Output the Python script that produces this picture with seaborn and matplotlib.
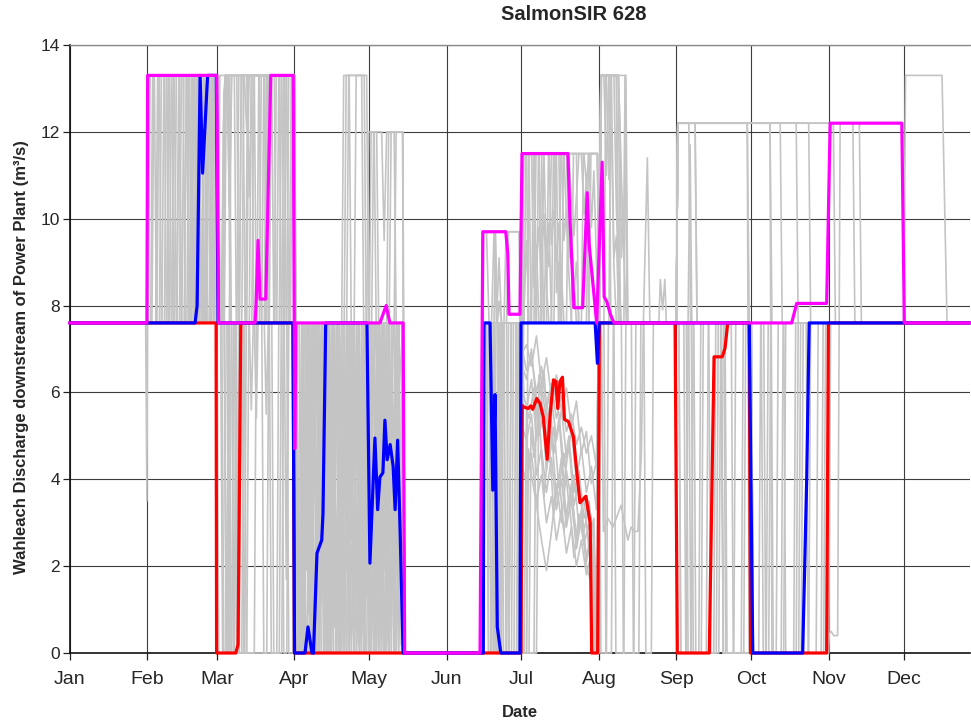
import matplotlib
matplotlib.use("Agg")
import matplotlib.pyplot as plt
import seaborn as sns
import pandas as pd

# ---- axis definitions -------------------------------------------------------
MONTH_STARTS = [0, 31, 59, 90, 120, 151, 181, 212, 243, 273, 304, 334]
MONTH_LABELS = ["Jan", "Feb", "Mar", "Apr", "May", "Jun",
                "Jul", "Aug", "Sep", "Oct", "Nov", "Dec"]
FLOW_TICKS = [0, 2, 4, 6, 8, 10, 12, 14]

# ---- highlighted runs (day of year, discharge m3/s) -------------------------
red_day = [0, 58.7, 58.9, 66.6, 67.5, 68.6, 89.5, 90.1, 180.8, 181.3, 182.0,
           183.7, 184.7, 185.5, 187.1, 188.4, 189.7, 191.3, 192.4, 193.8, 194.8,
           195.5, 196.4, 197.4, 198.2, 199.8, 201.8, 202.8, 204.4, 206.8, 208.5,
           209.1, 211.5, 212.2, 242.5, 243.4, 256.2, 258.1, 261.4, 262.5, 263.6,
           272.2, 272.7, 303.2, 303.9, 360.5]
red_q = [7.6, 7.6, 0, 0, 0.2, 7.6, 7.6, 0, 0, 5.7, 5.66,
         5.63, 5.69, 5.61, 5.86, 5.75, 5.44, 4.46, 5.44, 6.29, 6.25,
         5.63, 6.25, 6.35, 5.38, 5.33, 4.98, 4.37, 3.46, 3.61, 2.99,
         0, 0, 7.6, 7.6, 0, 0, 6.82, 6.82, 7.02, 7.6,
         7.6, 0, 0, 7.6, 7.6]

blue_day = [0, 50.3, 51.1, 52.3, 53.3, 55.3, 58.8, 59.5, 89.5, 90.1, 94.3,
            95.5, 97.1, 97.7, 99.1, 101.0, 101.5, 102.6, 119.1, 120.3, 122.3,
            123.4, 124.3, 125.5, 126.3, 127.2, 128.4, 129.6, 130.4, 131.4, 132.4,
            133.6, 165.7, 166.0, 168.4, 169.5, 170.4, 171.3, 172.7, 180.4, 180.8,
            210.5, 211.4, 212.1, 272.2, 273.6, 293.6, 295.2, 296.2, 360.5]
blue_q = [7.6, 7.6, 8.0, 13.3, 11.05, 13.3, 13.3, 7.6, 7.6, 0, 0,
          0.6, 0, 0, 2.3, 2.6, 3.2, 7.6, 7.6, 2.07, 4.95,
          3.3, 4.05, 4.15, 5.36, 4.45, 4.8, 4.3, 3.3, 4.9, 2.8,
          0, 0, 7.6, 7.6, 3.75, 5.95, 0.6, 0, 0, 7.6,
          7.6, 6.67, 7.6, 7.6, 0, 0, 3.98, 7.6, 7.6]

magenta_day = [0, 31.0, 31.3, 58.95, 59.7, 74.3, 74.7, 75.5, 76.3, 78.6, 80.6,
               89.6, 90.2, 90.6, 124.3, 126.8, 128.3, 133.6, 134.2, 164.4, 165.5,
               174.7, 175.5, 176.0, 180.4, 181.2, 199.6, 200.4, 202.0, 205.5, 207.3,
               208.1, 211.1, 213.3, 214.1, 215.1, 216.6, 217.3, 218.1, 289.2, 291.2,
               303.2, 304.6, 333.3, 334.3, 360.5]
magenta_q = [7.6, 7.6, 13.3, 13.3, 7.6, 7.6, 8.0, 9.5, 8.15, 8.15, 13.3,
             13.3, 4.7, 7.6, 7.6, 8.0, 7.6, 7.6, 0, 0, 9.7,
             9.7, 9.2, 7.8, 7.8, 11.5, 11.5, 10.0, 7.95, 7.95, 10.6,
             9.4, 7.6, 11.3, 8.2, 8.1, 7.8, 7.7, 7.6, 7.6, 8.05,
             8.05, 12.2, 12.2, 7.6, 7.6]

# ---- ensemble of simulated years (day of year, discharge m3/s) --------------
run01 = [(0, 7.6), (30.5, 7.6), (31, 3.5), (31.6, 13.3), (44, 13.3), (44.8, 7.6), (50, 7.6), (50.8, 13.3),
         (59.2, 13.3), (60, 7.6), (62, 7.6), (62.8, 0), (64, 0), (64.8, 7.6), (88, 7.6), (88.8, 13.3),
         (89.6, 13.3), (90.4, 0), (93, 0), (93.8, 5.1), (95, 3.2), (96, 7.6), (98, 7.6), (98.8, 0.8),
         (101, 2.6), (102, 7.6), (105, 7.6), (105.8, 1.2), (108, 4.4), (109, 7.6), (113, 7.6), (113.8, 0),
         (116, 3.6), (117, 6.9), (119, 2.4), (121, 7.6), (124, 7.6), (125, 1.5), (127, 5.8), (129, 3.9),
         (131, 7.6), (133.5, 7.6), (134.2, 0), (165, 0), (165.8, 7.6), (170, 7.6), (170.8, 0), (172, 0),
         (172.8, 7.6), (180.4, 7.6), (181.2, 6.9), (183, 7.1), (185, 6.6), (187, 7.3), (189, 6.2), (191, 6.8),
         (193, 5.9), (195, 6.4), (197, 5.6), (199, 6.1), (201, 5.2), (203, 5.8), (205, 4.6), (207, 5.1),
         (209, 3.9), (211, 4.4), (212, 7.6), (221, 7.6), (221.8, 0), (226, 0), (226.8, 7.6), (243, 7.6),
         (243.6, 12.2), (250.5, 12.2), (251.3, 7.6), (261, 7.6), (261.8, 0), (272.5, 0), (280, 0), (280.8, 7.6),
         (286, 7.6), (286.8, 0), (303.5, 0), (304.3, 7.6), (360.5, 7.6)]

run02 = [(0, 7.6), (33, 7.6), (33.8, 13.3), (36, 13.3), (36.8, 7.6), (41, 7.6), (41.8, 13.3), (59, 13.3),
         (59.8, 7.6), (61.5, 7.6), (62.3, 12.9), (63, 13.3), (67, 13.3), (67.8, 7.6), (72, 7.6), (72.8, 13.3),
         (90, 13.3), (90.8, 7.6), (92, 7.6), (92.8, 0), (94, 0), (95, 4.2), (96.5, 2.1), (98, 6.3),
         (99, 7.6), (102, 7.6), (102.8, 0), (104, 0), (105, 5.5), (106, 7.6), (110, 7.6), (110.8, 1.9),
         (112, 3.7), (113, 7.6), (114, 7.6), (114.8, 13.3), (117, 13.3), (117.8, 7.6), (120, 7.6), (120.8, 0.4),
         (123, 3.1), (125, 7.6), (128, 7.6), (128.8, 2.5), (130.5, 4.9), (132, 1.3), (133.5, 6.0), (134.2, 0),
         (165, 0), (165.8, 7.6), (168, 7.6), (168.8, 0), (171, 0), (171.8, 7.6), (180.4, 7.6), (181.2, 11.5),
         (186, 11.5), (186.8, 7.6), (190, 7.6), (190.8, 9.6), (192, 8.9), (193, 11.5), (199, 11.5), (200, 9.3),
         (202, 8.6), (203, 7.6), (212, 7.6), (212.8, 13.3), (216, 13.3), (216.8, 7.6), (243, 7.6), (243.6, 12.2),
         (271.4, 12.2), (272.2, 7.6), (278, 7.6), (278.8, 0), (296, 0), (296.8, 7.6), (360.5, 7.6)]

run03 = [(0, 7.6), (35, 7.6), (35.8, 13.3), (38, 13.3), (38.8, 7.6), (46, 7.6), (46.8, 13.3), (52, 13.3),
         (52.8, 7.6), (55, 7.6), (55.8, 13.3), (58.8, 13.3), (59.6, 7.6), (64, 7.6), (64.8, 13.3), (76, 13.3),
         (76.8, 7.6), (84, 7.6), (84.8, 13.3), (89.8, 13.3), (90.6, 0), (96, 0), (96.8, 7.6), (99, 7.6),
         (99.8, 0), (101, 3.4), (103, 0.9), (104, 7.6), (107, 7.6), (107.8, 0), (110, 0), (111, 6.2),
         (112.5, 7.6), (115, 7.6), (115.8, 2.9), (117, 4.8), (118.5, 0), (120, 0), (121, 5.9), (122.5, 7.6),
         (126, 7.6), (126.8, 0), (129, 2.0), (131, 5.2), (133.6, 7.6), (134.2, 0), (165, 0), (165.8, 9.7),
         (167, 9.7), (168, 7.6), (174, 7.6), (174.8, 9.7), (180.1, 9.7), (180.9, 7.6), (182, 5.9), (184, 5.4),
         (186, 6.1), (188, 5.0), (190, 5.6), (192, 4.4), (194, 5.2), (196, 3.8), (198, 4.6), (200, 3.4),
         (202, 4.1), (204, 2.9), (206, 3.6), (208, 2.4), (210, 3.1), (211.2, 0), (212, 7.6), (212.8, 13.3),
         (219.8, 13.3), (221, 11.0), (222, 9.1), (223, 7.6), (243, 7.6), (243.6, 12.2), (280.5, 12.2), (281.3, 0),
         (292, 0), (292.8, 7.6), (360.5, 7.6)]

run04 = [(0, 7.6), (37, 7.6), (37.8, 13.3), (59, 13.3), (59.8, 7.6), (62, 7.6), (62.8, 0), (66, 0),
         (66.8, 7.6), (69, 7.6), (69.8, 13.3), (71, 13.3), (72, 10.5), (73, 13.3), (90.2, 13.3), (91, 0),
         (97, 0), (97.8, 7.6), (100, 7.6), (100.8, 1.1), (102, 3.0), (103.5, 0), (105, 0), (106, 7.6),
         (108, 7.6), (108.8, 0), (111, 0), (112, 4.7), (113, 2.6), (114, 7.6), (116, 7.6), (116.8, 0.3),
         (118, 2.2), (119, 7.6), (121, 7.6), (121.8, 12.0), (125, 12.0), (126, 9.5), (127, 12.0), (133.4, 12.0),
         (134.2, 0), (165, 0), (165.8, 7.6), (170, 7.6), (170.6, 9.7), (171.4, 7.6), (172, 8.1), (173, 7.6),
         (180.4, 7.6), (181.2, 0), (186, 0), (186.8, 6.0), (188, 5.2), (190, 6.5), (192, 4.8), (194, 6.1),
         (196, 5.5), (198, 4.3), (200, 5.0), (202, 3.7), (204, 4.2), (206, 3.1), (208, 3.5), (210, 2.6),
         (211.3, 0), (212, 7.6), (213, 7.6), (213.8, 2.8), (215.6, 3.1), (217.6, 2.9), (220.9, 3.4), (223.6, 2.6),
         (224.9, 2.9), (226.3, 2.8), (227.6, 2.8), (229, 4.6), (229.8, 7.6), (231.4, 11.4), (232.4, 7.6), (243, 7.6),
         (244, 7.6), (244.8, 0), (247, 0), (247.7, 7.6), (248.5, 11.7), (249.2, 7.6), (273, 7.6), (273.8, 0),
         (303.6, 0), (304.3, 0.45), (305, 0.5), (306, 0.4), (307.6, 0.4), (308.6, 12.2), (313.7, 12.2), (314.5, 7.6),
         (360.5, 7.6)]

run05 = [(0, 7.6), (39, 7.6), (39.8, 13.3), (48, 13.3), (48.8, 7.6), (57, 7.6), (57.8, 13.3), (59.3, 13.3),
         (60, 7.6), (66, 7.6), (67, 0.2), (67.6, 0), (83, 0), (83.8, 7.6), (86, 7.6), (86.8, 13.3),
         (89.8, 13.3), (90.6, 7.6), (91, 7.6), (91.8, 0), (95, 0), (96, 2.8), (97, 1.6), (98.5, 7.6),
         (101, 7.6), (101.8, 0), (103, 4.8), (104, 3.5), (105, 7.6), (109, 7.6), (109.8, 13.3), (118, 13.3),
         (118.8, 7.6), (119.5, 7.6), (120.3, 0), (122, 2.7), (123, 1.4), (124, 4.5), (125, 7.6), (128, 7.6),
         (128.8, 12.0), (133.5, 12.0), (134.3, 0), (165, 0), (166, 7.6), (169, 7.6), (169.8, 0), (172.7, 0),
         (173.5, 7.6), (179, 7.6), (179.8, 0), (181, 0), (181.8, 7.6), (183, 9.5), (184, 7.6), (187, 7.6),
         (187.8, 11.5), (198, 11.5), (199, 10.0), (200, 9.1), (201, 9.7), (202, 8.3), (203, 9.0), (204, 7.6),
         (208, 7.6), (208.8, 11.5), (211.4, 11.5), (212.2, 7.6), (213, 13.3), (218, 13.3), (219, 10.2), (220, 8.7),
         (221, 7.6), (236, 7.6), (236.6, 8.6), (237.5, 7.9), (238.4, 8.6), (239, 7.6), (243, 7.6), (243.6, 12.2),
         (284.6, 12.2), (285.4, 7.6), (360.5, 7.6)]

run06 = [(0, 7.6), (31.5, 7.6), (32.3, 13.3), (34, 13.3), (34.8, 7.6), (43, 7.6), (43.8, 13.3), (54, 13.3),
         (54.8, 7.6), (56, 7.6), (56.8, 13.3), (59, 13.3), (59.8, 7.6), (60.5, 7.6), (61.3, 0), (63, 0),
         (63.8, 7.6), (75, 7.6), (75.8, 13.3), (90, 13.3), (90.8, 0), (94, 0), (95, 6.8), (96, 3.3),
         (97, 7.6), (100, 7.6), (100.8, 0), (103, 0), (103.8, 6.0), (105, 4.2), (106, 7.6), (111, 7.6),
         (111.8, 0.6), (113, 2.5), (114, 0), (116, 0), (117, 5.3), (118, 7.6), (120, 7.6), (120.8, 3.0),
         (122, 1.0), (123, 7.6), (127, 7.6), (127.8, 0), (130, 0), (131, 5.7), (132, 2.3), (133.5, 7.6),
         (134.3, 0), (165, 0), (165.8, 7.6), (180.5, 7.6), (181.3, 0), (183, 0), (183.8, 11.5), (186, 11.5),
         (186.8, 8.9), (188, 9.8), (189, 8.6), (190, 11.5), (195, 11.5), (195.8, 7.6), (212, 7.6), (212.8, 0),
         (215, 0), (215.8, 7.6), (222, 7.6), (222.8, 13.3), (223.6, 7.6), (248, 7.6), (248.8, 0), (252, 0),
         (252.8, 7.6), (273, 7.6), (273.8, 0), (286, 0), (286.8, 7.6), (360.5, 7.6)]

run07 = [(0, 7.6), (40, 7.6), (40.8, 13.3), (42, 13.3), (42.8, 7.6), (49, 7.6), (49.8, 13.3), (56, 13.3),
         (56.8, 7.6), (61, 7.6), (61.8, 12.9), (62.5, 13.3), (70, 13.3), (71, 12.0), (72, 13.3), (79, 13.3),
         (79.8, 7.6), (81, 7.6), (81.8, 0), (85, 0), (85.8, 7.6), (89.5, 7.6), (90.3, 0), (92, 0),
         (93, 7.6), (95, 7.6), (95.8, 0.9), (97, 2.4), (98, 0), (100, 0), (101, 7.6), (103, 7.6),
         (103.8, 1.7), (105, 0.5), (106, 4.0), (107, 7.6), (110, 7.6), (110.8, 13.3), (112, 13.3), (112.8, 7.6),
         (114, 7.6), (114.8, 1.4), (116, 3.3), (117, 0), (119, 0), (120, 6.1), (121, 3.6), (122, 7.6),
         (124, 7.6), (125, 2.8), (126, 4.6), (127, 7.6), (129, 7.6), (129.8, 0.6), (131, 3.0), (132, 7.6),
         (133.5, 7.6), (134.3, 0), (165, 0), (166, 7.6), (167, 7.6), (167.8, 0), (176, 0), (177, 7.6),
         (180.5, 7.6), (181.3, 4.3), (183, 3.9), (185, 4.6), (187, 3.5), (189, 4.1), (191, 3.0), (193, 3.6),
         (195, 2.6), (197, 3.3), (199, 2.3), (201, 2.9), (203, 2.0), (205, 2.6), (207, 1.8), (209, 2.3),
         (210.5, 0), (212, 0), (212.8, 7.6), (243, 7.6), (243.6, 12.2), (291, 12.2), (291.8, 7.6), (334, 7.6),
         (334.8, 13.3), (349.4, 13.3), (351.4, 7.6), (360.5, 7.6)]

run08 = [(0, 7.6), (44, 7.6), (44.8, 13.3), (47, 13.3), (47.8, 7.6), (51, 7.6), (51.8, 13.3), (59.5, 13.3),
         (60.3, 7.6), (62, 7.6), (62.8, 0), (65, 0), (65.8, 7.6), (72, 7.6), (72.8, 5.6), (73.6, 7.6),
         (77, 7.6), (77.8, 13.3), (86, 13.3), (86.8, 7.6), (90, 7.6), (90.8, 0), (93, 0), (94, 3.6),
         (95, 1.9), (96, 7.6), (98, 7.6), (98.8, 2.3), (100, 5.5), (101, 7.6), (104, 7.6), (104.8, 0),
         (107, 0), (108, 4.9), (109, 2.7), (110, 7.6), (112, 7.6), (112.8, 0.3), (115, 2.1), (116, 7.6),
         (118, 7.6), (118.8, 1.3), (120, 3.9), (121, 0), (123, 0), (124, 7.6), (126, 7.6), (126.8, 0.6),
         (128, 3.4), (129, 5.0), (130, 2.2), (132, 7.6), (133.5, 7.6), (134.3, 0), (165, 0), (166, 7.6),
         (173, 7.6), (173.8, 0), (177, 0), (177.8, 7.6), (180.5, 7.6), (181.3, 6.6), (183, 6.3), (185, 7.0),
         (187, 5.7), (189, 6.2), (191, 5.3), (193, 5.9), (195, 4.9), (197, 5.6), (199, 4.5), (201, 5.1),
         (203, 4.0), (205, 4.7), (207, 3.7), (209, 4.3), (211, 3.3), (212, 7.6), (214, 7.6), (214.8, 0),
         (217, 0), (217.8, 7.6), (247, 7.6), (247.7, 0), (258, 0), (258.8, 7.6), (261, 7.6), (261.8, 0),
         (270, 0), (270.8, 7.6), (273, 7.6), (273.8, 0), (299, 0), (299.8, 7.6), (360.5, 7.6)]

run09 = [(0, 7.6), (46, 7.6), (46.8, 13.3), (50, 13.3), (50.8, 7.6), (53, 7.6), (53.8, 13.3), (59, 13.3),
         (59.8, 7.6), (63.5, 7.6), (64.3, 0), (66, 0), (66.8, 7.6), (74, 7.6), (74.8, 5.4), (75.5, 7.6),
         (80, 7.6), (80.8, 13.3), (89.6, 13.3), (90.4, 7.6), (93, 7.6), (93.8, 0), (96, 0), (97, 4.9),
         (98, 7.6), (103, 7.6), (103.8, 0), (105, 2.9), (106, 1.1), (107, 7.6), (109, 7.6), (109.8, 0),
         (112, 0), (113, 6.5), (114, 3.9), (115, 7.6), (117, 7.6), (117.8, 0), (119, 2.2), (120.5, 7.6),
         (123, 7.6), (123.8, 0.9), (125, 4.1), (126, 7.6), (129, 7.6), (129.8, 0), (131.5, 3.7), (133, 1.5),
         (134.2, 0), (165, 0), (166, 7.6), (171.5, 7.6), (172.3, 0), (179, 0), (179.8, 7.6), (181, 7.6),
         (181.8, 11.5), (184, 11.5), (184.8, 7.6), (189, 7.6), (189.8, 11.5), (192, 11.5), (193, 9.4), (194, 10.2),
         (195, 9.0), (196, 9.9), (197, 8.7), (198, 7.6), (205, 7.6), (205.8, 11.5), (211.4, 11.5), (212.2, 7.6),
         (212.8, 13.3), (219, 13.3), (219.8, 7.6), (243, 7.6), (243.6, 12.2), (305.9, 12.2), (306.7, 7.6), (360.5, 7.6)]

run10 = [(0, 7.6), (48, 7.6), (48.8, 13.3), (52, 13.3), (52.8, 7.6), (55, 7.6), (55.8, 13.3), (58, 13.3),
         (58.8, 7.6), (59.5, 7.6), (60.2, 13.3), (63, 13.3), (64, 10.3), (65, 13.3), (74, 13.3), (74.8, 7.6),
         (78.5, 7.6), (79.3, 13.3), (89.8, 13.3), (90.6, 0), (92, 0), (93, 5.8), (94, 2.5), (95, 7.6),
         (97, 7.6), (97.8, 0), (100, 0), (101, 3.9), (102, 1.4), (103, 7.6), (106, 7.6), (106.8, 0),
         (108, 0), (109, 5.2), (110, 7.6), (114, 7.6), (114.8, 0), (116, 1.8), (117, 0.4), (118, 7.6),
         (119, 7.6), (119.8, 12.0), (123, 12.0), (123.8, 7.6), (125, 7.6), (125.8, 1.9), (127, 3.6), (128, 0),
         (130, 0), (131, 7.6), (133.5, 7.6), (134.3, 0), (165, 0), (166, 7.6), (174, 7.6), (174.8, 0),
         (176, 0), (176.8, 7.6), (180.5, 7.6), (181.3, 7.0), (183, 6.5), (185, 6.8), (187, 6.0), (189, 6.6),
         (191, 5.6), (193, 6.2), (195, 5.4), (197, 5.9), (199, 5.1), (201, 5.5), (203, 4.8), (205, 5.2),
         (207, 4.6), (209, 5.0), (211, 4.3), (212, 7.6), (218, 7.6), (218.8, 0), (222, 0), (222.8, 7.6),
         (246, 7.6), (246.8, 0), (249, 0), (249.8, 7.6), (262, 7.6), (262.8, 0), (276, 0), (276.8, 7.6),
         (281, 7.6), (281.8, 0), (302, 0), (302.8, 7.6), (360.5, 7.6)]

run11 = [(0, 7.6), (50.5, 7.6), (51.3, 13.3), (59.4, 13.3), (60.2, 7.6), (68, 7.6), (68.8, 13.3), (84, 13.3),
         (84.8, 7.6), (87, 7.6), (87.8, 0), (89.5, 0), (90.3, 7.6), (91, 7.6), (91.8, 0), (93, 2.6),
         (94, 0.7), (95, 7.6), (97, 7.6), (97.8, 0), (99, 4.6), (100.5, 2.9), (102, 7.6), (106, 7.6),
         (106.8, 0.2), (108, 2.7), (109, 7.6), (111, 7.6), (111.8, 0), (114, 0), (115, 5.8), (116, 7.6),
         (120, 7.6), (120.8, 0), (122, 0), (123, 5.0), (124, 2.1), (125.5, 7.6), (127, 7.6), (127.8, 12.0),
         (130, 12.0), (130.8, 7.6), (133.6, 7.6), (134.3, 0), (165, 0), (166, 7.6), (169, 7.6), (169.8, 0),
         (173, 0), (173.8, 7.6), (180.5, 7.6), (181.3, 0), (184, 0), (184.8, 5.2), (186, 4.5), (188, 5.6),
         (190, 3.6), (192, 4.9), (194, 3.2), (196, 4.1), (198, 2.8), (200, 3.6), (202, 2.2), (204, 3.2),
         (206, 2.5), (208, 3.0), (210, 1.9), (211, 0), (212, 0), (212.8, 7.6), (244, 7.6), (244.8, 0),
         (255, 0), (255.8, 7.6), (265, 7.6), (265.8, 0), (279, 0), (279.8, 7.6), (360.5, 7.6)]

run12 = [(0, 7.6), (53, 7.6), (53.8, 13.3), (57, 13.3), (57.8, 7.6), (59, 7.6), (59.8, 0), (63, 0),
         (63.8, 7.6), (67, 7.6), (67.8, 13.3), (69.5, 13.3), (70.3, 7.6), (73, 7.6), (73.8, 13.3), (82, 13.3),
         (82.8, 7.6), (85, 7.6), (85.8, 0), (87, 0), (87.8, 7.6), (88.5, 7.6), (89.3, 13.3), (90, 13.3),
         (90.8, 0), (93, 0), (94, 7.6), (96, 7.6), (96.8, 0), (98, 2.1), (99, 0), (102, 0),
         (103, 7.6), (104, 7.6), (104.8, 3.1), (106, 5.6), (107, 0), (110, 0), (111, 7.6), (113, 7.6),
         (113.8, 0), (115, 3.4), (116, 1.6), (117, 7.6), (121, 7.6), (121.8, 0), (124, 0), (125, 4.0),
         (126, 6.2), (127, 2.6), (128, 7.6), (130, 7.6), (130.8, 0), (132, 2.8), (133.5, 0.6), (134.2, 0),
         (165, 0), (166, 7.6), (169, 7.6), (170, 9.7), (171, 7.6), (180.5, 7.6), (181.3, 11.5), (183, 11.5),
         (183.8, 7.6), (186, 7.6), (186.8, 11.5), (188, 11.5), (189, 9.2), (190, 10.1), (191, 8.4), (192, 7.6),
         (197, 7.6), (197.8, 11.5), (200, 11.5), (201, 10.4), (202, 9.6), (203, 10.5), (204, 11.5), (208, 11.5),
         (209, 9.8), (210, 11.1), (211, 9.0), (212, 7.6), (212.8, 13.3), (214, 13.3), (215, 11.0), (216, 13.3),
         (219, 13.3), (220, 7.6), (225, 7.6), (225.8, 0), (228, 0), (228.8, 7.6), (250, 7.6), (250.8, 0),
         (253, 0), (253.8, 7.6), (272.5, 7.6), (273.3, 0), (285, 0), (285.8, 7.6), (360.5, 7.6)]

run13 = [(0, 7.6), (54.5, 7.6), (55.3, 13.3), (59.3, 13.3), (60.1, 7.6), (60.8, 7.6), (61.6, 12.0), (62.4, 13.3),
         (63.5, 13.3), (64.3, 7.6), (70, 7.6), (70.8, 0), (74, 0), (74.8, 7.6), (78, 7.6), (78.8, 13.3),
         (85, 13.3), (85.8, 7.6), (87, 7.6), (87.8, 13.3), (90.2, 13.3), (91, 0), (95, 0), (96, 5.2),
         (97, 7.6), (99, 7.6), (99.8, 0), (102, 0), (103, 2.3), (104, 0.8), (105, 7.6), (108, 7.6),
         (108.8, 0), (110, 5.0), (111, 2.8), (112, 7.6), (115, 7.6), (115.8, 0.2), (117, 4.4), (118, 1.2),
         (119.5, 7.6), (120, 7.6), (120.8, 0), (122, 0), (123, 6.5), (124, 7.6), (127, 7.6), (127.8, 0),
         (129, 3.3), (130, 1.4), (131, 5.9), (132.5, 2.2), (133.6, 4.0), (134.2, 0), (165, 0), (166, 7.6),
         (168, 7.6), (168.8, 0), (170, 0), (170.8, 7.6), (180.5, 7.6), (181.3, 5.2), (183, 4.9), (185, 5.5),
         (187, 4.1), (189, 4.7), (191, 3.7), (193, 4.5), (195, 3.3), (197, 4.0), (199, 2.9), (201, 3.6),
         (203, 2.7), (205, 3.2), (207, 2.2), (209, 2.8), (210.5, 0), (212, 0), (212.8, 7.6), (243, 7.6),
         (243.6, 12.2), (316.3, 12.2), (317.1, 7.6), (360.5, 7.6)]

run14 = [(0, 7.6), (56.5, 7.6), (57.3, 13.3), (59.5, 13.3), (60.3, 7.6), (65, 7.6), (65.8, 0), (70, 0),
         (70.8, 7.6), (76, 7.6), (76.8, 13.3), (81, 13.3), (81.8, 7.6), (83, 7.6), (83.8, 13.3), (89.8, 13.3),
         (90.6, 7.6), (92, 7.6), (92.8, 0), (94, 0), (95, 7.6), (99, 7.6), (99.8, 1.5), (101, 4.6),
         (102, 0.3), (104, 0), (105, 6.6), (106, 7.6), (108, 7.6), (108.8, 0), (110, 0), (111, 3.1),
         (112, 5.3), (113, 7.6), (116, 7.6), (116.8, 2.8), (118, 0.8), (119, 7.6), (122, 7.6), (122.8, 0),
         (125, 0), (126, 5.1), (127, 7.6), (130, 7.6), (130.8, 12.0), (133.4, 12.0), (134.2, 0), (165, 0),
         (166, 7.6), (175, 7.6), (175.8, 0), (178, 0), (178.8, 7.6), (180.5, 7.6), (181.3, 0), (187, 0),
         (188, 6.4), (190, 5.3), (192, 6.0), (194, 4.6), (196, 5.4), (198, 3.9), (200, 4.8), (202, 3.4),
         (204, 4.0), (206, 2.8), (208, 3.4), (210, 2.6), (211.2, 0), (212, 0), (212.8, 7.6), (214, 7.6),
         (214.8, 13.3), (217, 13.3), (218, 9.1), (219, 9.6), (220, 7.6), (243, 7.6), (243.6, 12.2), (280.5, 12.2),
         (281.3, 7.6), (295, 7.6), (295.8, 0), (304, 0), (304.8, 7.6), (360.5, 7.6)]

run15 = [(0, 7.6), (58, 7.6), (58.8, 13.3), (59.3, 13.3), (60, 7.6), (61, 7.6), (61.8, 0), (68, 0),
         (68.8, 7.6), (82, 7.6), (82.8, 13.3), (90, 13.3), (90.8, 0), (92, 0), (93, 4.0), (94, 1.8),
         (95, 6.9), (96, 7.6), (101, 7.6), (101.8, 0), (104, 0), (105, 3.0), (106, 7.6), (107, 7.6),
         (107.8, 0.5), (109, 3.5), (110, 0), (112, 0), (113, 7.6), (117, 7.6), (117.8, 0), (120, 0),
         (121, 4.4), (122, 6.7), (123, 7.6), (125, 7.6), (125.8, 0), (127, 2.4), (128, 0.3), (129, 7.6),
         (131, 7.6), (131.8, 0), (133, 3.0), (134.2, 0), (165, 0), (166, 7.6), (181.3, 7.6), (182, 11.5),
         (188, 11.5), (188.8, 7.6), (191, 7.6), (191.8, 11.5), (194, 11.5), (195, 8.3), (196, 9.0), (197, 7.6),
         (201, 7.6), (201.8, 11.5), (206, 11.5), (207, 10.8), (208, 11.5), (211.4, 11.5), (212.2, 7.6), (213, 13.3),
         (219.8, 13.3), (220.5, 12.0), (221, 9.1), (222, 10.3), (222.5, 13.3), (223.5, 7.6), (243, 7.6), (243.6, 12.2),
         (271.4, 12.2), (272.2, 0), (291, 0), (291.8, 7.6), (360.5, 7.6)]

run16 = [(0, 7.6), (34.5, 7.6), (35.3, 13.3), (40, 13.3), (40.8, 7.6), (45, 7.6), (45.8, 13.3), (49, 13.3),
         (49.8, 7.6), (52, 7.6), (52.8, 13.3), (59.2, 13.3), (60, 7.6), (66.5, 7.6), (67.3, 0), (69, 0),
         (69.8, 7.6), (71, 7.6), (71.8, 13.3), (78, 13.3), (78.8, 7.6), (80, 7.6), (80.8, 0), (84, 0),
         (84.8, 7.6), (86, 7.6), (86.8, 1.7), (87.6, 7.6), (90, 7.6), (90.8, 0), (94, 0), (94.8, 7.6),
         (97, 7.6), (97.8, 0.4), (99, 3.8), (100, 1.7), (101, 7.6), (105, 7.6), (105.8, 0), (108, 0),
         (109, 7.6), (111, 7.6), (111.8, 0), (113, 4.1), (114, 1.9), (115, 7.6), (119, 7.6), (119.8, 0),
         (121, 1.6), (122, 0), (124, 0), (125, 7.6), (127, 7.6), (127.8, 0.8), (129, 5.5), (130, 3.1),
         (131, 7.6), (133, 7.6), (133.8, 4.2), (134.3, 0), (165, 0), (165.8, 7.6), (167, 7.6), (167.8, 0),
         (169, 0), (169.8, 7.6), (175, 7.6), (175.8, 9.7), (180.1, 9.7), (180.9, 0), (182, 0), (183, 5.6),
         (185, 6.3), (187, 4.9), (189, 5.8), (191, 4.2), (193, 5.1), (195, 3.6), (197, 4.5), (199, 3.1),
         (201, 3.9), (203, 2.5), (205, 3.3), (207, 2.1), (209, 2.7), (210.3, 0), (212, 0), (212.8, 7.6),
         (230, 7.6), (230.8, 0), (233, 0), (233.8, 7.6), (262.5, 7.6), (263.3, 0), (269, 0), (269.8, 7.6),
         (273, 7.6), (273.8, 0), (290, 0), (290.8, 7.6), (360.5, 7.6)]

run17 = [(0, 7.6), (42, 7.6), (42.8, 13.3), (45.5, 13.3), (46.3, 7.6), (48.5, 7.6), (49.3, 13.3), (59.3, 13.3),
         (60, 7.6), (61.5, 7.6), (62.2, 13.3), (66, 13.3), (66.8, 7.6), (69, 7.6), (69.8, 0), (71, 0),
         (71.8, 7.6), (78, 7.6), (78.8, 5.5), (79.6, 7.6), (85, 7.6), (85.8, 13.3), (89.9, 13.3), (90.7, 0),
         (92.5, 0), (93.5, 7.6), (96, 7.6), (96.8, 0), (99, 0), (100, 5.7), (101, 7.6), (104, 7.6),
         (104.8, 0), (106, 3.3), (107, 0.5), (108, 7.6), (111, 7.6), (111.8, 13.3), (119, 13.3), (119.8, 7.6),
         (121, 7.6), (121.8, 0.3), (123, 2.7), (124, 7.6), (126, 7.6), (126.8, 0), (128, 0), (129, 6.6),
         (130, 7.6), (132, 7.6), (132.8, 0.2), (133.6, 2.6), (134.2, 0), (165, 0), (166, 7.6), (170, 7.6),
         (170.8, 0), (171.5, 0), (172.3, 7.6), (180.5, 7.6), (181.3, 11.5), (189, 11.5), (189.8, 7.6), (193, 7.6),
         (193.8, 11.5), (196, 11.5), (196.8, 7.6), (199, 7.6), (199.8, 11.5), (205, 11.5), (206, 10.1), (207, 10.9),
         (208, 7.6), (212, 7.6), (212.8, 13.3), (219.8, 13.3), (220.6, 7.6), (243, 7.6), (243.6, 12.2), (248, 12.2),
         (248.7, 7.6), (261, 7.6), (261.8, 0), (266, 0), (266.8, 7.6), (277, 7.6), (277.8, 0), (301, 0),
         (301.8, 7.6), (360.5, 7.6)]

run18 = [(0, 7.6), (38, 7.6), (38.8, 13.3), (41, 13.3), (41.8, 7.6), (47, 7.6), (47.8, 13.3), (51, 13.3),
         (51.8, 7.6), (54, 7.6), (54.8, 13.3), (59, 13.3), (59.8, 7.6), (62, 7.6), (62.8, 13.3), (64, 13.3),
         (64.8, 7.6), (68, 7.6), (68.8, 13.3), (73, 13.3), (73.8, 7.6), (77, 7.6), (77.8, 0), (79, 0),
         (79.8, 7.6), (86, 7.6), (86.8, 13.3), (89.7, 13.3), (90.5, 0), (93, 0), (94, 1.3), (95, 0),
         (97, 0), (98, 6.1), (99, 3.4), (100, 7.6), (102, 7.6), (102.8, 0), (104, 0), (105, 2.4),
         (106, 0.6), (107, 7.6), (110, 7.6), (110.8, 0), (112, 0), (113, 5.6), (114, 7.6), (116, 7.6),
         (116.8, 0), (118, 0), (119, 4.3), (120, 7.6), (122, 7.6), (122.8, 0), (124, 2.1), (125, 0.3),
         (126, 7.6), (128, 7.6), (128.8, 0), (130, 4.4), (131, 1.8), (132, 7.6), (133.6, 7.6), (134.3, 0),
         (165, 0), (166, 7.6), (172, 7.6), (172.8, 0), (175, 0), (175.8, 7.6), (180.5, 7.6), (181.3, 0),
         (183, 0), (183.8, 4.7), (185, 4.1), (187, 3.4), (189, 2.6), (191, 1.9), (193, 2.8), (195, 3.9),
         (197, 3.0), (199, 4.2), (201, 3.5), (203, 2.4), (205, 3.1), (207, 2.0), (209, 1.6), (210, 0),
         (212, 0), (212.8, 7.6), (249, 7.6), (249.8, 0), (260, 0), (260.8, 7.6), (273, 7.6), (273.8, 0),
         (293, 0), (293.8, 7.6), (360.5, 7.6)]

run19 = [(0, 7.6), (36, 7.6), (36.8, 13.3), (44, 13.3), (44.8, 7.6), (58, 7.6), (58.8, 13.3), (59.2, 13.3),
         (60, 7.6), (63, 7.6), (63.8, 0), (67, 0), (67.8, 7.6), (70.5, 7.6), (71.3, 13.3), (87, 13.3),
         (87.8, 7.6), (89.5, 7.6), (90.3, 0), (92, 0), (93, 3.0), (94, 7.6), (96, 7.6), (96.8, 1.1),
         (98, 4.0), (99, 7.6), (101, 7.6), (101.8, 0), (104, 0), (105, 7.6), (107, 7.6), (107.8, 0),
         (109, 1.5), (110, 7.6), (112, 7.6), (112.8, 0), (115, 0), (116, 6.0), (117, 3.2), (118, 7.6),
         (120, 7.6), (120.8, 12.0), (122, 12.0), (122.8, 7.6), (124, 7.6), (124.8, 0), (126, 3.5), (127, 0.7),
         (128, 7.6), (130, 7.6), (130.8, 0), (133, 0), (133.6, 5.0), (134.2, 0), (165, 0), (166, 7.6),
         (171, 7.6), (172, 9.1), (173, 7.6), (180.5, 7.6), (181.3, 9.3), (182, 7.6), (185, 7.6), (185.8, 11.5),
         (190, 11.5), (191, 9.0), (192, 9.9), (193, 7.6), (196, 7.6), (196.8, 11.5), (203, 11.5), (203.8, 7.6),
         (212, 7.6), (212.8, 13.3), (215, 13.3), (216, 10.9), (217, 12.1), (218, 8.9), (219, 7.6), (243, 7.6),
         (243.6, 12.2), (250.5, 12.2), (251.3, 7.6), (256, 7.6), (256.8, 0), (259, 0), (259.8, 7.6), (272.5, 7.6),
         (273.3, 0), (283, 0), (283.8, 7.6), (360.5, 7.6)]

run20 = [(0, 7.6), (32.5, 7.6), (33.3, 13.3), (39, 13.3), (39.8, 7.6), (43, 7.6), (43.8, 13.3), (47, 13.3),
         (47.8, 7.6), (50, 7.6), (50.8, 13.3), (53, 13.3), (53.8, 7.6), (56, 7.6), (56.8, 13.3), (59.4, 13.3),
         (60.2, 7.6), (64, 7.6), (64.8, 0), (67, 0), (67.8, 7.6), (79, 7.6), (79.8, 13.3), (89.5, 13.3),
         (90.3, 7.6), (91, 7.6), (91.8, 0), (93, 0), (94, 5.4), (95, 7.6), (98, 7.6), (98.8, 0),
         (100, 0), (101, 5.0), (102.5, 2.1), (104, 7.6), (106, 7.6), (106.8, 0), (109, 0), (110, 3.7),
         (111, 7.6), (113, 7.6), (113.8, 0), (116, 0), (117, 2.5), (118, 0), (120, 0), (121, 7.6),
         (123, 7.6), (123.8, 0), (126, 0), (127, 4.3), (128, 2.0), (129, 7.6), (131, 7.6), (131.8, 0),
         (133, 0), (133.8, 3.4), (134.3, 0), (165, 0), (166, 7.6), (179, 7.6), (179.8, 0), (180.5, 0),
         (181.3, 7.6), (182, 7.6), (182.8, 11.5), (185, 11.5), (186, 8.4), (187, 9.4), (188, 7.6), (194, 7.6),
         (194.8, 11.5), (197, 11.5), (198, 9.5), (199, 10.2), (200, 8.7), (201, 7.6), (207, 7.6), (207.8, 11.5),
         (211.4, 11.5), (212.2, 7.6), (216, 7.6), (216.8, 13.3), (222.5, 13.3), (223.3, 7.6), (243, 7.6), (243.6, 12.2),
         (296, 12.2), (296.8, 7.6), (360.5, 7.6)]

ENSEMBLE = [run01, run02, run03, run04, run05, run06, run07, run08, run09, run10,
            run11, run12, run13, run14, run15, run16, run17, run18, run19, run20]

# ---- tidy tables for seaborn -------------------------------------------------
rows = []
for i, run in enumerate(ENSEMBLE, start=1):
    for order, (d, q) in enumerate(run):
        rows.append({"run": i, "order": order, "day": d, "flow": q})
ens_df = pd.DataFrame(rows)

red_df = pd.DataFrame({"day": red_day, "flow": red_q})
blue_df = pd.DataFrame({"day": blue_day, "flow": blue_q})
magenta_df = pd.DataFrame({"day": magenta_day, "flow": magenta_q})

# ---- styling -----------------------------------------------------------------
sns.set_theme(style="white")
plt.rcParams["font.family"] = ["Liberation Sans", "DejaVu Sans"]

W, H = 971, 725
fig = plt.figure(figsize=(W / 100, H / 100), dpi=100)
ax = fig.add_axes([69.5 / W, (H - 653) / H, (970 - 69.5) / W, (653 - 45) / H])

sns.lineplot(data=ens_df, x="day", y="flow", units="run", estimator=None,
             sort=False, color="#c4c4c4", lw=1.2, ax=ax, legend=False,
             zorder=3, clip_on=False)
sns.lineplot(data=red_df, x="day", y="flow", sort=False, color="#ff0000",
             lw=2.3, ax=ax, zorder=4, clip_on=False)
sns.lineplot(data=blue_df, x="day", y="flow", sort=False, color="#0000ff",
             lw=2.3, ax=ax, zorder=5, clip_on=False)
sns.lineplot(data=magenta_df, x="day", y="flow", sort=False, color="#ff00ff",
             lw=2.3, ax=ax, zorder=6, clip_on=False)

ax.set_xlim(0, 360.6)
ax.set_ylim(0, 14)
ax.set_xticks(MONTH_STARTS)
ax.set_xticklabels(MONTH_LABELS)
ax.set_yticks(FLOW_TICKS)
ax.set_yticklabels([str(v) for v in FLOW_TICKS])

ax.grid(True, color="#3c3c3c", lw=0.8)
ax.set_axisbelow(True)
ax.tick_params(axis="x", direction="out", length=5, width=0.9, color="#222222",
               labelsize=14, pad=8, bottom=True)
ax.tick_params(axis="y", direction="out", length=5, width=0.9, color="#222222",
               labelsize=12.5, pad=2, left=True)

for side in ("left", "bottom"):
    ax.spines[side].set_color("#111111")
    ax.spines[side].set_linewidth(1.2)
ax.spines["top"].set_color("#8a8a8a")
ax.spines["top"].set_linewidth(1.0)
ax.spines["right"].set_visible(False)

ax.set_xlabel("")
ax.set_ylabel("")
fig.text(574 / W, 1 - 15 / H, "SalmonSIR 628", ha="center", va="center",
         fontsize=14.5, fontweight="bold")
fig.text(519.7 / W, 1 - 712.5 / H, "Date", ha="center", va="center",
         fontsize=12, fontweight="bold")
fig.text(22 / W, 1 - 357 / H,
         "Wahleach Discharge downstream of Power Plant (m\u00b3/s)",
         rotation=90, ha="center", va="center", fontsize=12, fontweight="bold")

fig.savefig("out.png", dpi=100, facecolor="white")
